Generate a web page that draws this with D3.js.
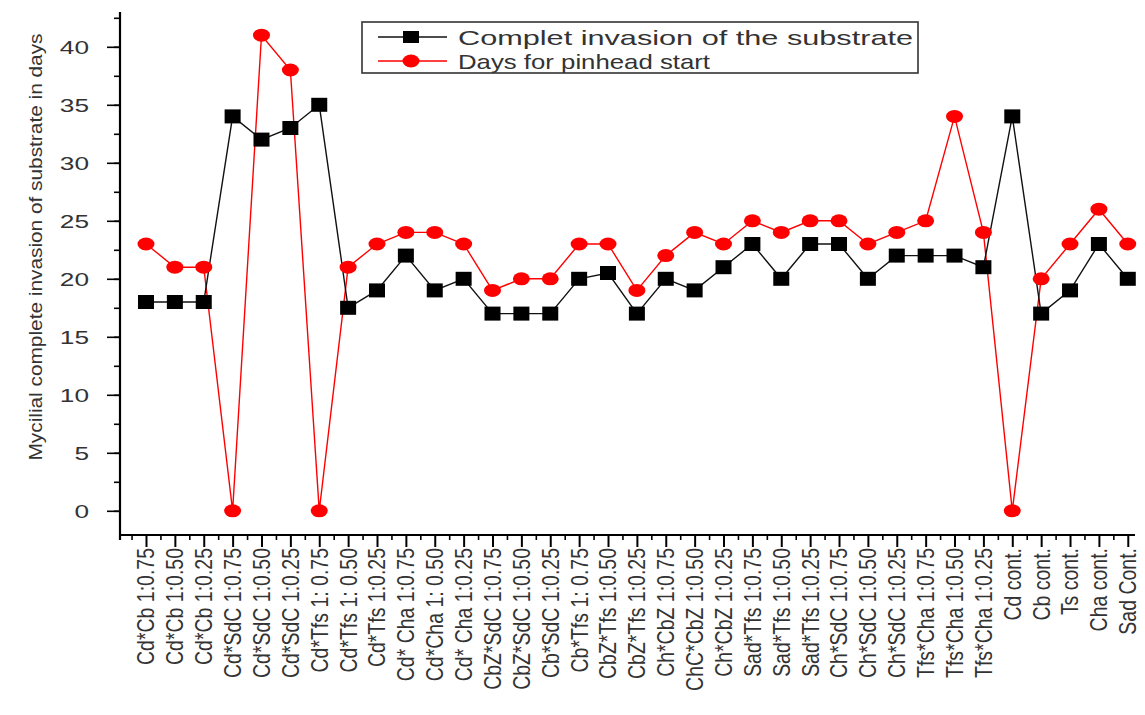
<!DOCTYPE html>
<html>
<head>
<meta charset="utf-8">
<script src="https://cdn.jsdelivr.net/npm/d3@7"></script>
<style>
  html, body { margin: 0; padding: 0; background: #fff; }
  svg { display: block; font-family: "Liberation Sans", Arial, sans-serif; }
</style>
</head>
<body>
<svg id="chart" width="1145" height="715"></svg>
<script>
const W = 1145, H = 715;

// категории (ось X)
const categories = [
  'Cd*Cb 1:0.75', 'Cd*Cb 1:0.50', 'Cd*Cb 1:0.25',
  'Cd*SdC 1:0.75', 'Cd*SdC 1:0.50', 'Cd*SdC 1:0.25',
  'Cd*Tfs 1: 0.75', 'Cd*Tfs 1: 0.50', 'Cd*Tfs 1:0.25',
  'Cd* Cha 1:0.75', 'Cd*Cha 1: 0.50', 'Cd* Cha 1:0.25',
  'CbZ*SdC 1:0.75', 'CbZ*SdC 1:0.50', 'Cb*SdC 1:0.25',
  'Cb*Tfs 1: 0.75', 'CbZ*Tfs 1:0.50', 'CbZ*Tfs 1:0.25',
  'Ch*CbZ 1:0.75', 'ChC*CbZ 1:0.50', 'Ch*CbZ 1:0.25',
  'Sad*Tfs 1:0.75', 'Sad*Tfs 1:0.50', 'Sad*Tfs 1:0.25',
  'Ch*SdC 1:0.75', 'Ch*SdC 1:0.50', 'Ch*SdC 1:0.25',
  'Tfs*Cha 1:0.75', 'Tfs*Cha 1:0.50', 'Tfs*Cha 1:0.25',
  'Cd cont.', 'Cb cont.', 'Ts cont.', 'Cha cont.', 'Sad Cont.'
];

// серии
const invasion = [18, 18, 18, 34, 32, 33, 35, 17.5, 19, 22, 19, 20, 17, 17, 17,
  20, 20.5, 17, 20, 19, 21, 23, 20, 23, 23, 20, 22, 22, 22, 21, 34, 17, 19, 23, 20];
const pinhead = [23, 21, 21, 0, 41, 38, 0, 21, 23, 24, 24, 23, 19, 20, 20,
  23, 23, 19, 22, 24, 23, 25, 24, 25, 25, 23, 24, 25, 34, 24, 0, 20, 23, 26, 23];

const yTicks = [0, 5, 10, 15, 20, 25, 30, 35, 40];
const seriesNames = ['Complet invasion of the substrate', 'Days for pinhead start'];

const svg = d3.select('#chart');

const x = d3.scaleLinear().domain([-0.9, 34.25]).range([120, 1135]);
const y = d3.scaleLinear().domain([-2, 43]).range([534, 12]);

// ---- оси ----
const gY = svg.append('g').attr('transform', 'translate(120,0)');
gY.call(d3.axisLeft(y).tickValues(d3.range(0, 43, 2.5)).tickSize(6).tickFormat(''))
  .call(g => g.select('.domain').remove())
  .call(g => g.selectAll('.tick line').attr('stroke', '#000').attr('stroke-width', 1.6));
const gY2 = svg.append('g').attr('transform', 'translate(120,0)');
gY2.call(d3.axisLeft(y).tickValues(yTicks).tickSize(13).tickFormat(''))
  .call(g => g.select('.domain').remove())
  .call(g => g.selectAll('.tick line').attr('stroke', '#000').attr('stroke-width', 1.6));

// подписи Y (растянуты по горизонтали, как в оригинале)
svg.append('g').selectAll('text.ylab')
  .data(yTicks)
  .join('text')
  .attr('class', 'ylab')
  .attr('transform', d => `translate(89,${y(d)}) scale(1.38,1)`)
  .attr('text-anchor', 'end')
  .attr('dy', '0.36em')
  .attr('font-size', 19)
  .attr('fill', '#333')
  .text(d => d);

const gX = svg.append('g').attr('transform', 'translate(0,535)');
gX.call(d3.axisBottom(x).tickValues(d3.range(-0.5, 34.5, 1)).tickSize(5).tickFormat(''))
  .call(g => g.select('.domain').remove())
  .call(g => g.selectAll('.tick line').attr('stroke', '#000').attr('stroke-width', 1.6));
const gX2 = svg.append('g').attr('transform', 'translate(0,535)');
gX2.call(d3.axisBottom(x).tickValues(d3.range(0, 35, 1)).tickSize(12).tickFormat(''))
  .call(g => g.select('.domain').remove())
  .call(g => g.selectAll('.tick line').attr('stroke', '#000').attr('stroke-width', 2));

// линии осей
svg.append('line').attr('x1', 120).attr('x2', 120).attr('y1', 12).attr('y2', 540)
  .attr('stroke', '#000').attr('stroke-width', 2.2);
svg.append('line').attr('x1', 119).attr('x2', 1135).attr('y1', 535).attr('y2', 535)
  .attr('stroke', '#000').attr('stroke-width', 2.2);

// подписи X
svg.append('g').selectAll('text.xlab')
  .data(categories)
  .join('text')
  .attr('class', 'xlab')
  .attr('transform', (d, i) => `translate(${x(i)},548) scale(1.2,1) rotate(-90)`)
  .attr('text-anchor', 'end')
  .attr('dy', '0.36em')
  .attr('font-size', 19.5)
  .attr('fill', '#333')
  .text(d => d);

// заголовок оси Y
svg.append('text')
  .attr('transform', 'translate(42,247) rotate(-90)')
  .attr('text-anchor', 'middle')
  .attr('font-size', 19)
  .attr('fill', '#333')
  .attr('textLength', 427)
  .attr('lengthAdjust', 'spacingAndGlyphs')
  .text('Mycilial complete invasion of substrate in days');

// ---- серии ----
const line = d3.line().x((d, i) => x(i)).y(d => y(d));

svg.append('path').datum(pinhead)
  .attr('d', line).attr('fill', 'none').attr('stroke', '#f00').attr('stroke-width', 1.4);
svg.append('path').datum(invasion)
  .attr('d', line).attr('fill', 'none').attr('stroke', '#111').attr('stroke-width', 1.4);

svg.append('g').selectAll('ellipse')
  .data(pinhead)
  .join('ellipse')
  .attr('cx', (d, i) => x(i)).attr('cy', d => y(d))
  .attr('rx', 8.5).attr('ry', 6.5)
  .attr('fill', '#f00');

svg.append('g').selectAll('rect')
  .data(invasion)
  .join('rect')
  .attr('x', (d, i) => x(i) - 8).attr('y', d => y(d) - 7)
  .attr('width', 16).attr('height', 14)
  .attr('fill', '#000');

// ---- легенда ----
const leg = svg.append('g');
leg.append('rect').attr('x', 362).attr('y', 22).attr('width', 556).attr('height', 51)
  .attr('fill', '#fff').attr('stroke', '#333').attr('stroke-width', 1.6);
const legRows = [
  { name: seriesNames[0], color: '#111', y: 37, len: 455, shape: 'rect' },
  { name: seriesNames[1], color: '#f00', y: 61, len: 252, shape: 'ellipse' }
];
legRows.forEach(r => {
  leg.append('line').attr('x1', 378).attr('x2', 447).attr('y1', r.y).attr('y2', r.y)
    .attr('stroke', r.color).attr('stroke-width', 1.4);
  if (r.shape === 'rect') {
    leg.append('rect').attr('x', 403).attr('y', r.y - 6).attr('width', 16).attr('height', 12)
      .attr('fill', '#000');
  } else {
    leg.append('ellipse').attr('cx', 411).attr('cy', r.y).attr('rx', 8.5).attr('ry', 6.5)
      .attr('fill', '#f00');
  }
  leg.append('text').attr('x', 458).attr('y', r.y).attr('dy', '0.36em')
    .attr('font-size', 21).attr('fill', '#333')
    .attr('textLength', r.len).attr('lengthAdjust', 'spacingAndGlyphs')
    .text(r.name);
});
</script>
</body>
</html>
